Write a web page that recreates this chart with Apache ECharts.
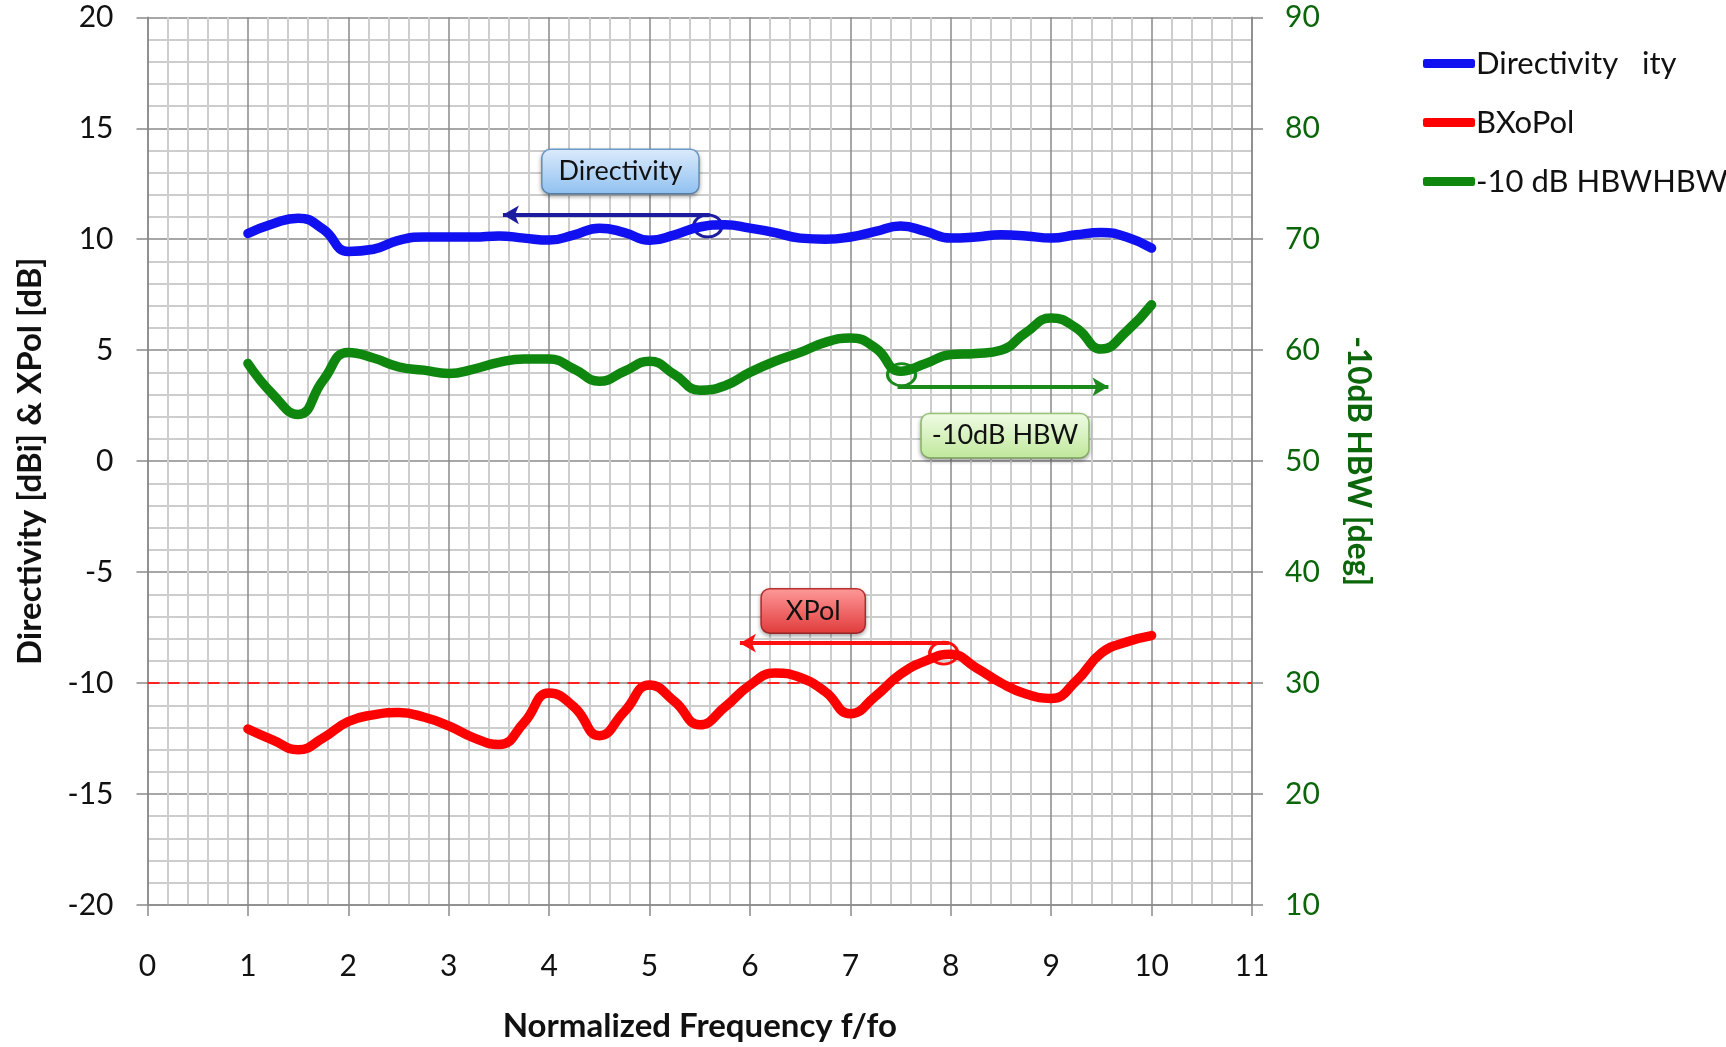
<!DOCTYPE html>
<html>
<head>
<meta charset="utf-8">
<script src="https://cdn.jsdelivr.net/npm/echarts@6/dist/echarts.min.js"></script>
<style>
html,body{margin:0;padding:0;background:#fff;}
#chart{width:1726px;height:1047px;}
</style>
</head>
<body>
<div id="chart"></div>
<script>
// ---- data ----
const freq = [1,1.25,1.5,1.75,2,2.25,2.5,2.75,3,3.25,3.5,3.75,4,4.25,4.5,4.75,5,5.25,5.5,5.75,6,6.25,6.5,6.75,7,7.25,7.5,7.75,8,8.25,8.5,8.75,9,9.25,9.5,9.75,10];
const directivity = [10.26,10.7,10.95,10.45,9.45,9.55,9.95,10.1,10.1,10.1,10.15,10.05,9.96,10.2,10.5,10.3,9.95,10.2,10.55,10.65,10.5,10.3,10.05,10.0,10.1,10.35,10.6,10.35,10.05,10.1,10.2,10.15,10.05,10.2,10.3,10.1,9.6];
const xpol = [-12.07,-12.57,-13.0,-12.47,-11.73,-11.43,-11.33,-11.53,-11.93,-12.47,-12.77,-11.78,-10.45,-11.08,-12.37,-11.28,-10.09,-10.83,-11.88,-11.08,-10.09,-9.55,-9.75,-10.39,-11.38,-10.59,-9.6,-9.0,-8.7,-9.3,-9.99,-10.49,-10.69,-9.9,-8.65,-8.15,-7.86];
const hbw = [58.8,56.0,54.2,57.3,59.8,59.3,58.5,58.2,57.9,58.3,58.9,59.2,59.2,58.3,57.2,58.1,59.0,57.8,56.4,56.8,58.0,59.0,59.8,60.7,61.1,60.2,58.1,58.8,59.6,59.7,60.0,61.6,62.9,62.0,60.1,61.7,64.1];
const xTicks = [0,1,2,3,4,5,6,7,8,9,10,11];
const leftTicks = [-20,-15,-10,-5,0,5,10,15,20];
const rightTicks = [10,20,30,40,50,60,70,80,90];
const seriesNames = ['Directivity   ity','BXoPol','-10 dB HBWHBW'];
const xpolLimit = -10;
// annotations (data coordinates)
const dirNote = {label:'Directivity', at:[4.71,13.05], arrowFrom:[5.6,11.1], arrowTo:[3.54,11.1], circle:[5.58,10.6], padX:16};
const hbwNote = {label:'-10dB HBW', at:[8.54,52.3], arrowFrom:[7.47,56.7], arrowTo:[9.57,56.7], circle:[7.51,57.8], padX:10};
const xpolNote = {label:'XPol', at:[6.63,-6.75], arrowFrom:[7.98,-8.2], arrowTo:[5.9,-8.2], circle:[7.93,-8.65], padX:24};

const pairs = (ys) => freq.map((x,i)=>[x,ys[i]]);
const FONT = 'Lato, "Open Sans", sans-serif';
const grad = (a,b)=>new echarts.graphic.LinearGradient(0,0,0,1,[{offset:0,color:a},{offset:1,color:b}]);

function noteMarks(note, lineColor, bgTop, bgBot, border){
  return {
    markLine: {
      silent:true, animation:false,
      symbol:['none','arrow'], symbolSize:[14,16],
      label:{show:false},
      lineStyle:{color:lineColor,width:4,type:'solid'},
      data:[[{coord:note.arrowFrom},{coord:note.arrowTo}]]
    },
    markPoint: {
      silent:true, animation:false,
      data:[
        {coord:note.circle, symbol:'circle', symbolSize:[28,22],
         itemStyle:{color:'rgba(0,0,0,0)',borderColor:lineColor,borderWidth:3},
         label:{show:false}},
        {coord:note.at, symbol:'circle', symbolSize:1,
         itemStyle:{color:'rgba(0,0,0,0)'},
         label:{show:true, position:'inside', formatter:note.label,
           fontFamily:FONT, fontSize:27, color:'#111',
           backgroundColor:grad(bgTop,bgBot), borderColor:border, borderWidth:1.5,
           borderRadius:8, padding:[8,note.padX,8,note.padX],
           shadowColor:'rgba(0,0,0,0.3)', shadowBlur:4, shadowOffsetY:2}}
      ]
    }
  };
}

const chart = echarts.init(document.getElementById('chart'));
const gridColor = '#8a8a8a';
const minorColor = '#cdcdcd';

const dirMarks = noteMarks(dirNote,'#1c1ca0','#dcebfb','#8fc0f0','#6f9fd0');
const hbwMarks = noteMarks(hbwNote,'#1a8a1a','#f0fbe6','#bfe89a','#9cc97a');
const xpolMarks = noteMarks(xpolNote,'#ff1010','#ff9a9a','#e03a3a','#c03030');
xpolMarks.markLine.data.push([{coord:[0,xpolLimit],symbol:'none',lineStyle:{color:'#ff2020',width:2,type:[12,8]}},{coord:[11,xpolLimit],symbol:'none'}]);

chart.setOption({
  animation:false,
  backgroundColor:'#fff',
  textStyle:{fontFamily:FONT},
  grid:{left:147.5,right:474,top:17.3,bottom:142,containLabel:false,outerBoundsMode:'none'},
  legend:{
    orient:'vertical', left:1418, top:43,
    icon:'roundRect', itemWidth:52, itemHeight:9, itemGap:28,
    textStyle:{fontFamily:FONT,fontSize:31,color:'#111',padding:[0,0,0,-4]},
    data:seriesNames
  },
  xAxis:{
    type:'value', min:xTicks[0], max:xTicks[xTicks.length-1], interval:1,
    name:'Normalized Frequency f/fo', nameLocation:'middle', nameGap:105,
    nameTextStyle:{fontFamily:FONT,fontSize:33,fontWeight:'bold',color:'#111'},
    axisLine:{show:true,onZero:false,lineStyle:{color:gridColor,width:1.5}},
    axisTick:{show:true,length:11,lineStyle:{color:gridColor,width:1.5}},
    axisLabel:{margin:46,fontSize:30,color:'#111',fontFamily:FONT},
    splitLine:{show:true,lineStyle:{color:gridColor,width:1.5}},
    minorTick:{show:false,splitNumber:5},
    minorSplitLine:{show:true,lineStyle:{color:minorColor,width:2}}
  },
  yAxis:[{
    type:'value', min:leftTicks[0], max:leftTicks[leftTicks.length-1], interval:5,
    name:'Directivity [dBi] & XPol [dB]', nameLocation:'middle', nameGap:101,
    nameTextStyle:{fontFamily:FONT,fontSize:33,fontWeight:'bold',color:'#111'},
    axisLine:{show:true,lineStyle:{color:gridColor,width:1.5}},
    axisTick:{show:true,length:11,lineStyle:{color:gridColor,width:1.5}},
    axisLabel:{margin:34,fontSize:30,color:'#111',fontFamily:FONT},
    splitLine:{show:true,lineStyle:{color:gridColor,width:1.5}},
    minorTick:{show:false,splitNumber:5},
    minorSplitLine:{show:true,lineStyle:{color:minorColor,width:2}}
  },{
    type:'value', position:'right', min:rightTicks[0], max:rightTicks[rightTicks.length-1], interval:10,
    name:'-10dB HBW [deg]', nameLocation:'middle', nameGap:90, nameRotate:-90,
    nameTextStyle:{fontFamily:FONT,fontSize:31.5,fontWeight:'bold',color:'#0b650b'},
    axisLine:{show:true,lineStyle:{color:gridColor,width:1.5}},
    axisTick:{show:true,length:11,lineStyle:{color:gridColor,width:1.5}},
    axisLabel:{margin:33,fontSize:30,color:'#0b650b',fontFamily:FONT},
    splitLine:{show:false}
  }],
  series:[
    Object.assign({
      name:seriesNames[0], type:'line', yAxisIndex:0, data:pairs(directivity),
      smooth:0.5, symbol:'none', color:'#1010f0',
      lineStyle:{width:9.5,color:'#1010f0',cap:'round'}, z:5
    }, dirMarks),
    Object.assign({
      name:seriesNames[1], type:'line', yAxisIndex:0, data:pairs(xpol),
      smooth:0.5, symbol:'none', color:'#ff0000',
      lineStyle:{width:9.5,color:'#ff0000',cap:'round'}, z:5
    }, xpolMarks),
    Object.assign({
      name:seriesNames[2], type:'line', yAxisIndex:1, data:pairs(hbw),
      smooth:0.5, symbol:'none', color:'#0f870f',
      lineStyle:{width:9.5,color:'#0f870f',cap:'round'}, z:5
    }, hbwMarks)
  ]
});
</script>
</body>
</html>
